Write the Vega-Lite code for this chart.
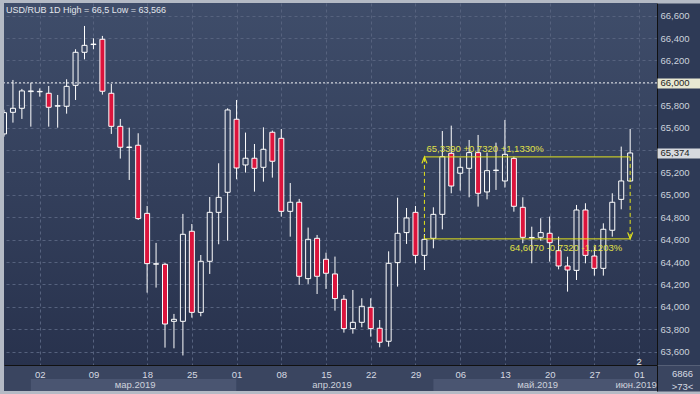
{
  "$schema": "https://vega.github.io/schema/vega-lite/v6.json",
  "background": "#b4bac5",
  "padding": {"left": 3, "top": 3, "right": 0, "bottom": 3},
  "bounds": "flush",
  "spacing": 0,
  "config": {
    "view": {"stroke": null},
    "font": "Liberation Sans",
    "axis": {"labelFont": "Liberation Sans", "labelOverlap": false},
    "text": {"font": "Liberation Sans"}
  },
  "datasets": {
    "candles": [
      {"date": "2019-02-26", "open": 65.544, "high": 65.76, "low": 65.52, "close": 65.734},
      {"date": "2019-02-27", "open": 65.737, "high": 66.026, "low": 65.645, "close": 65.773},
      {"date": "2019-02-28", "open": 65.773, "high": 65.946, "low": 65.678, "close": 65.928},
      {"date": "2019-03-01", "open": 65.922, "high": 66.002, "low": 65.609, "close": 65.928},
      {"date": "2019-03-02", "open": 65.92, "high": 65.951, "low": 65.877, "close": 65.924},
      {"date": "2019-03-04", "open": 65.907, "high": 65.972, "low": 65.609, "close": 65.782},
      {"date": "2019-03-05", "open": 65.792, "high": 65.892, "low": 65.6, "close": 65.796},
      {"date": "2019-03-06", "open": 65.791, "high": 66.032, "low": 65.725, "close": 65.969},
      {"date": "2019-03-07", "open": 65.978, "high": 66.3, "low": 65.847, "close": 66.273},
      {"date": "2019-03-08", "open": 66.273, "high": 66.508, "low": 66.21, "close": 66.335},
      {"date": "2019-03-09", "open": 66.342, "high": 66.398, "low": 66.3, "close": 66.346},
      {"date": "2019-03-11", "open": 66.389, "high": 66.419, "low": 65.895, "close": 65.925},
      {"date": "2019-03-12", "open": 65.907, "high": 65.99, "low": 65.544, "close": 65.612},
      {"date": "2019-03-13", "open": 65.612, "high": 65.678, "low": 65.324, "close": 65.425},
      {"date": "2019-03-14", "open": 65.423, "high": 65.6, "low": 65.133, "close": 65.427},
      {"date": "2019-03-15", "open": 65.443, "high": 65.55, "low": 64.776, "close": 64.788},
      {"date": "2019-03-18", "open": 64.835, "high": 64.901, "low": 64.127, "close": 64.386},
      {"date": "2019-03-19", "open": 64.381, "high": 64.571, "low": 64.172, "close": 64.385},
      {"date": "2019-03-20", "open": 64.38, "high": 64.392, "low": 63.636, "close": 63.847},
      {"date": "2019-03-21", "open": 63.871, "high": 63.937, "low": 63.63, "close": 63.889},
      {"date": "2019-03-22", "open": 63.871, "high": 64.83, "low": 63.566, "close": 64.648},
      {"date": "2019-03-25", "open": 64.675, "high": 64.74, "low": 63.904, "close": 63.951},
      {"date": "2019-03-26", "open": 63.951, "high": 64.463, "low": 63.916, "close": 64.407},
      {"date": "2019-03-27", "open": 64.407, "high": 64.981, "low": 64.294, "close": 64.844},
      {"date": "2019-03-28", "open": 64.844, "high": 65.282, "low": 64.559, "close": 64.978},
      {"date": "2019-03-29", "open": 65.023, "high": 65.773, "low": 64.591, "close": 65.758},
      {"date": "2019-04-01", "open": 65.675, "high": 65.847, "low": 65.139, "close": 65.24},
      {"date": "2019-04-02", "open": 65.267, "high": 65.556, "low": 65.199, "close": 65.327},
      {"date": "2019-04-03", "open": 65.327, "high": 65.454, "low": 65.029, "close": 65.237},
      {"date": "2019-04-04", "open": 65.246, "high": 65.603, "low": 65.118, "close": 65.407},
      {"date": "2019-04-05", "open": 65.559, "high": 65.574, "low": 65.154, "close": 65.3},
      {"date": "2019-04-08", "open": 65.505, "high": 65.588, "low": 64.806, "close": 64.853},
      {"date": "2019-04-09", "open": 64.853, "high": 65.106, "low": 64.627, "close": 64.934},
      {"date": "2019-04-10", "open": 64.934, "high": 64.964, "low": 64.196, "close": 64.273},
      {"date": "2019-04-11", "open": 64.252, "high": 64.708, "low": 64.205, "close": 64.603},
      {"date": "2019-04-12", "open": 64.612, "high": 64.642, "low": 64.115, "close": 64.273},
      {"date": "2019-04-15", "open": 64.425, "high": 64.484, "low": 64.16, "close": 64.3},
      {"date": "2019-04-16", "open": 64.294, "high": 64.449, "low": 63.966, "close": 64.074},
      {"date": "2019-04-17", "open": 64.068, "high": 64.106, "low": 63.77, "close": 63.806},
      {"date": "2019-04-18", "open": 63.806, "high": 64.151, "low": 63.761, "close": 63.862},
      {"date": "2019-04-19", "open": 63.862, "high": 64.077, "low": 63.818, "close": 64.005},
      {"date": "2019-04-22", "open": 63.996, "high": 64.077, "low": 63.734, "close": 63.806},
      {"date": "2019-04-23", "open": 63.809, "high": 63.883, "low": 63.639, "close": 63.684},
      {"date": "2019-04-24", "open": 63.693, "high": 64.496, "low": 63.645, "close": 64.389},
      {"date": "2019-04-25", "open": 64.395, "high": 64.975, "low": 64.181, "close": 64.657},
      {"date": "2019-04-26", "open": 64.663, "high": 64.883, "low": 64.562, "close": 64.794},
      {"date": "2019-04-29", "open": 64.844, "high": 64.901, "low": 64.389, "close": 64.46},
      {"date": "2019-04-30", "open": 64.46, "high": 64.65, "low": 64.329, "close": 64.603},
      {"date": "2019-05-01", "open": 64.612, "high": 64.889, "low": 64.523, "close": 64.826},
      {"date": "2019-05-02", "open": 64.826, "high": 65.57, "low": 64.692, "close": 65.341},
      {"date": "2019-05-03", "open": 65.371, "high": 65.618, "low": 65.014, "close": 65.079},
      {"date": "2019-05-06", "open": 65.193, "high": 65.332, "low": 65.038, "close": 65.246},
      {"date": "2019-05-07", "open": 65.237, "high": 65.49, "low": 64.978, "close": 65.377},
      {"date": "2019-05-08", "open": 65.377, "high": 65.535, "low": 64.895, "close": 65.014},
      {"date": "2019-05-09", "open": 65.026, "high": 65.377, "low": 64.96, "close": 65.216},
      {"date": "2019-05-10", "open": 65.217, "high": 65.466, "low": 65.044, "close": 65.221},
      {"date": "2019-05-13", "open": 65.124, "high": 65.669, "low": 65.065, "close": 65.362},
      {"date": "2019-05-14", "open": 65.326, "high": 65.341, "low": 64.85, "close": 64.898},
      {"date": "2019-05-15", "open": 64.889, "high": 64.978, "low": 64.568, "close": 64.621},
      {"date": "2019-05-16", "open": 64.616, "high": 64.716, "low": 64.389, "close": 64.62},
      {"date": "2019-05-17", "open": 64.621, "high": 64.791, "low": 64.591, "close": 64.663},
      {"date": "2019-05-20", "open": 64.657, "high": 64.806, "low": 64.404, "close": 64.573},
      {"date": "2019-05-21", "open": 64.502, "high": 64.627, "low": 64.335, "close": 64.365},
      {"date": "2019-05-22", "open": 64.365, "high": 64.448, "low": 64.136, "close": 64.329},
      {"date": "2019-05-23", "open": 64.326, "high": 64.91, "low": 64.24, "close": 64.865},
      {"date": "2019-05-24", "open": 64.865, "high": 64.925, "low": 64.389, "close": 64.46},
      {"date": "2019-05-27", "open": 64.454, "high": 64.538, "low": 64.279, "close": 64.344},
      {"date": "2019-05-28", "open": 64.344, "high": 64.746, "low": 64.279, "close": 64.693},
      {"date": "2019-05-29", "open": 64.684, "high": 65.014, "low": 64.627, "close": 64.934},
      {"date": "2019-05-30", "open": 64.96, "high": 65.431, "low": 64.871, "close": 65.124},
      {"date": "2019-05-31", "open": 65.124, "high": 65.588, "low": 65.12, "close": 65.374}
    ],
    "levels": [
      {"v": 66.0, "kind": "level"}
    ],
    "ann": [
      {"from": "2019-04-30", "to": "2019-05-31", "top": 65.339, "bottom": 64.607, "top_text": "65,3390 +0,7320 +1,1330%", "bottom_text": "64,6070 -0,7320 -1,1203%"}
    ],
    "misc": [
      {"date": "2019-06-01", "v": 63.51, "t": "2"}
    ],
    "head": [
      {"date": "2019-02-26", "v": 66.65, "t": "USD/RUB 1D High = 66,5 Low = 63,566"}
    ],
    "months": [
      {"m": "мар.2019", "start": "2019-03-01", "end": "2019-04-01", "at": "2019-03-15", "tone": "light"},
      {"m": "апр.2019", "start": "2019-04-01", "end": "2019-05-01", "at": "2019-04-16", "tone": "none"},
      {"m": "май.2019", "start": "2019-05-01", "end": "2019-06-01", "at": "2019-05-17", "tone": "light"},
      {"m": "июн.2019", "start": "2019-06-01", "end": "2019-06-01", "at": "2019-06-01", "tone": "none"}
    ]
  },
  "resolve": {"scale": {"x": "shared", "y": "independent", "fill": "independent"}},
  "vconcat": [
    {
      "width": 653,
      "height": 362,
      "view": {"fill": {"gradient": "linear", "x1": 0, "y1": 0, "x2": 0, "y2": 1, "stops": [{"offset": 0, "color": "#3f4d6a"}, {"offset": 1, "color": "#28324d"}]}, "stroke": null},
      "resolve": {"axis": {"y": "independent"}},
      "layer": [
        {
          "data": {"name": "levels"},
          "mark": {"type": "rule", "color": "#ffffff", "strokeWidth": 1, "strokeDash": [2, 2], "opacity": 0.9},
          "encoding": {
            "y": {"field": "v", "type": "quantitative", "scale": {"domain": [63.481, 66.713], "nice": false, "zero": false},
              "axis": {
                "orient": "right",
                "zindex": 0,
                "tickCount": 60,
                "values": [63.6, 63.8, 64, 64.2, 64.4, 64.6, 64.8, 65, 65.097, 65.2, 65.4, 65.6, 65.8, 66, 66.2, 66.4, 66.6],
                "grid": true,
                "gridDash": [3, 3],
                "gridWidth": 1,
                "gridColor": {"condition": {"test": "datum.value == 65.097", "value": "transparent"}, "value": "#56627e"},
                "ticks": true,
                "tickSize": 44,
                "tickWidth": {"condition": {"test": "datum.value == 65.097", "value": 362}, "value": 1},
                "tickColor": "#2e3a56",
                "tickOpacity": {"condition": {"test": "datum.value == 65.097", "value": 1}, "value": 0},
                "domain": true,
                "domainColor": "#111111",
                "domainWidth": 1,
                "labels": false,
                "title": null
              }}
          }
        },
        {
          "data": {"name": "candles"},
          "transform": [
            {"fold": ["open", "close"], "as": ["side", "price"]},
            {"aggregate": [
              {"op": "max", "field": "price", "as": "top"},
              {"op": "min", "field": "price", "as": "bot"},
              {"op": "max", "field": "high", "as": "hi"},
              {"op": "min", "field": "low", "as": "lo"}
            ], "groupby": ["date"]}
          ],
          "layer": [
            {
              "mark": {"type": "rule", "color": "#ffffff", "strokeWidth": 1, "clip": true},
              "encoding": {
                "x": {"field": "date", "type": "ordinal", "scale": {"type": "point", "padding": 1, "align": 0, "round": false},
                  "axis": {"values": ["2019-03-02","2019-03-09","2019-03-18","2019-03-25","2019-04-01","2019-04-08","2019-04-15","2019-04-22","2019-04-29","2019-05-06","2019-05-13","2019-05-20","2019-05-27","2019-06-01"], "grid": true, "gridColor": "#56627e", "gridDash": [3, 3], "gridWidth": 1, "labels": false, "ticks": false, "domain": false, "title": null}},
                "y": {"field": "hi", "type": "quantitative", "scale": {"domain": [63.481, 66.713], "nice": false, "zero": false},
                  "axis": {
                    "orient": "right",
                    "zindex": 1,
                    "tickCount": 60,
                    "values": [63.6, 63.8, 64, 64.2, 64.4, 64.6, 64.8, 65, 65.2, 65.374, 65.6, 65.8, 66, 66.2, 66.4, 66.6],
                    "grid": false,
                    "ticks": true,
                    "tickSize": 44,
                    "tickWidth": 10,
                    "tickColor": {"condition": {"test": "datum.value == 66", "value": "#e8e8d2"}, "value": "#d6d9de"},
                    "tickOpacity": {"condition": {"test": "datum.value == 66 || datum.value == 65.374", "value": 1}, "value": 0},
                    "domain": false,
                    "labels": true,
                    "labelExpr": "replace(format(datum.value, '.3f'), '.', ',')",
                    "labelAlign": "left",
                    "labelBaseline": "middle",
                    "labelPadding": -41,
                    "labelColor": {"condition": {"test": "datum.value == 66 || datum.value == 65.374", "value": "#1e1e1e"}, "value": "#ccd2dc"},
                    "labelFontSize": 9.5,
                    "labelOverlap": false,
                    "labelFlush": false,
                    "labelBound": false,
                    "title": null
                  }},
                "y2": {"field": "top"}
              }
            },
            {
              "mark": {"type": "rule", "color": "#ffffff", "strokeWidth": 1, "clip": true},
              "encoding": {
                "x": {"field": "date", "type": "ordinal", "scale": {"type": "point", "padding": 1, "align": 0, "round": false}},
                "y": {"field": "bot", "type": "quantitative", "scale": {"domain": [63.481, 66.713], "nice": false, "zero": false}},
                "y2": {"field": "lo"}
              }
            }
          ]
        },
        {
          "data": {"name": "candles"},
          "mark": {"type": "bar", "size": 5, "stroke": "#ffffff", "strokeWidth": 1, "clip": true},
          "encoding": {
            "x": {"field": "date", "type": "ordinal", "scale": {"type": "point", "padding": 1, "align": 0, "round": false}},
            "y": {"field": "open", "type": "quantitative", "scale": {"domain": [63.481, 66.713], "nice": false, "zero": false}, "axis": null},
            "y2": {"field": "close"},
            "fill": {"condition": {"test": "datum.close < datum.open", "value": "#dc143c"}, "value": "transparent"}
          }
        },
        {
          "data": {"name": "ann"},
          "layer": [
            {
              "mark": {"type": "rule", "color": "#e4e41c", "strokeWidth": 1},
              "encoding": {
                "x": {"field": "from", "type": "ordinal", "scale": {"type": "point", "padding": 1, "align": 0, "round": false}},
                "x2": {"field": "to"},
                "y": {"field": "top", "type": "quantitative", "scale": {"domain": [63.481, 66.713], "nice": false, "zero": false}, "axis": null}
              }
            },
            {
              "mark": {"type": "rule", "color": "#e4e41c", "strokeWidth": 1},
              "encoding": {
                "x": {"field": "from", "type": "ordinal", "scale": {"type": "point", "padding": 1, "align": 0, "round": false}},
                "x2": {"field": "to"},
                "y": {"field": "bottom", "type": "quantitative", "scale": {"domain": [63.481, 66.713], "nice": false, "zero": false}, "axis": null}
              }
            },
            {
              "mark": {"type": "rule", "color": "#e4e41c", "strokeWidth": 1, "strokeDash": [4, 3]},
              "encoding": {
                "x": {"field": "from", "type": "ordinal", "scale": {"type": "point", "padding": 1, "align": 0, "round": false}},
                "y": {"field": "bottom", "type": "quantitative", "scale": {"domain": [63.481, 66.713], "nice": false, "zero": false}, "axis": null},
                "y2": {"field": "top"}
              }
            },
            {
              "mark": {"type": "rule", "color": "#e4e41c", "strokeWidth": 1, "strokeDash": [4, 3]},
              "encoding": {
                "x": {"field": "to", "type": "ordinal", "scale": {"type": "point", "padding": 1, "align": 0, "round": false}},
                "y": {"field": "top", "type": "quantitative", "scale": {"domain": [63.481, 66.713], "nice": false, "zero": false}, "axis": null},
                "y2": {"field": "bottom"}
              }
            },
            {
              "mark": {"type": "point", "shape": "M-1,2.6L0,0L1,2.6", "size": 25, "filled": false, "stroke": "#e4e41c", "strokeWidth": 1.2, "opacity": 1},
              "encoding": {
                "x": {"field": "from", "type": "ordinal", "scale": {"type": "point", "padding": 1, "align": 0, "round": false}},
                "y": {"field": "top", "type": "quantitative", "scale": {"domain": [63.481, 66.713], "nice": false, "zero": false}, "axis": null}
              }
            },
            {
              "mark": {"type": "point", "shape": "M-1,-2.6L0,0L1,-2.6", "size": 25, "filled": false, "stroke": "#e4e41c", "strokeWidth": 1.2, "opacity": 1},
              "encoding": {
                "x": {"field": "to", "type": "ordinal", "scale": {"type": "point", "padding": 1, "align": 0, "round": false}},
                "y": {"field": "bottom", "type": "quantitative", "scale": {"domain": [63.481, 66.713], "nice": false, "zero": false}, "axis": null}
              }
            },
            {
              "mark": {"type": "text", "align": "left", "baseline": "middle", "dx": 2, "dy": -8, "color": "#e0e048", "fontSize": 9.5},
              "encoding": {
                "x": {"field": "from", "type": "ordinal", "scale": {"type": "point", "padding": 1, "align": 0, "round": false}},
                "y": {"field": "top", "type": "quantitative", "scale": {"domain": [63.481, 66.713], "nice": false, "zero": false}, "axis": null},
                "text": {"field": "top_text"}
              }
            },
            {
              "mark": {"type": "text", "align": "right", "baseline": "middle", "dx": -8, "dy": 9, "color": "#e0e048", "fontSize": 9.5},
              "encoding": {
                "x": {"field": "to", "type": "ordinal", "scale": {"type": "point", "padding": 1, "align": 0, "round": false}},
                "y": {"field": "bottom", "type": "quantitative", "scale": {"domain": [63.481, 66.713], "nice": false, "zero": false}, "axis": null},
                "text": {"field": "bottom_text"}
              }
            }
          ]
        },
        {
          "data": {"name": "misc"},
          "mark": {"type": "text", "color": "#e8e8e8", "fontSize": 9.5, "baseline": "middle"},
          "encoding": {
            "x": {"field": "date", "type": "ordinal", "scale": {"type": "point", "padding": 1, "align": 0, "round": false}},
            "y": {"field": "v", "type": "quantitative", "scale": {"domain": [63.481, 66.713], "nice": false, "zero": false}, "axis": null},
            "text": {"field": "t"}
          }
        },
        {
          "data": {"name": "head"},
          "mark": {"type": "text", "color": "#e2e6ec", "fontSize": 9, "align": "left", "baseline": "middle", "dx": 2},
          "encoding": {
            "x": {"field": "date", "type": "ordinal", "scale": {"type": "point", "padding": 1, "align": 0, "round": false}},
            "y": {"field": "v", "type": "quantitative", "scale": {"domain": [63.481, 66.713], "nice": false, "zero": false}, "axis": null},
            "text": {"field": "t"}
          }
        }
      ]
    },
    {
      "width": 653,
      "height": 26,
      "view": {"fill": "#3a4560", "stroke": null},
      "data": {"name": "months"},
      "layer": [
        {
          "mark": {"type": "rect"},
          "encoding": {
            "x": {"field": "start", "type": "ordinal", "scale": {"type": "point", "padding": 1, "align": 0, "round": false},
              "axis": {"orient": "top", "values": ["2019-03-02","2019-03-09","2019-03-18","2019-03-25","2019-04-01","2019-04-08","2019-04-15","2019-04-22","2019-04-29","2019-05-06","2019-05-13","2019-05-20","2019-05-27","2019-06-01"], "labelExpr": "substring(datum.value, 8, 10)", "labelPadding": -9, "labelBaseline": "middle", "labelAngle": 0, "ticks": false, "grid": false, "domain": true, "domainColor": "#111111", "title": null, "labelColor": "#d6dae2", "labelFontSize": 9.5, "labelOverlap": false, "labelFlush": false, "labelBound": false}},
            "x2": {"field": "end"},
            "y": {"datum": 0, "type": "quantitative", "scale": {"domain": [0, 2], "nice": false, "zero": false},
              "axis": {
                "orient": "right",
                "tickCount": 60,
                "values": [1, 1.38, 0.31],
                "ticks": true,
                "tickSize": 44,
                "tickWidth": {"condition": {"test": "datum.value == 1", "value": 26}, "value": 1},
                "tickColor": "#3a4560",
                "tickOpacity": {"condition": {"test": "datum.value == 1", "value": 1}, "value": 0},
                "domain": true,
                "domainColor": "#111111",
                "grid": false,
                "labelExpr": "datum.value > 1.2 ? '6866' : (datum.value < 0.5 ? '>73<' : ' ')",
                "labelAlign": "center",
                "labelBaseline": "middle",
                "labelPadding": -19,
                "labelColor": "#d6dae2",
                "labelFontSize": 9.5,
                "labelOverlap": false,
                "labelFlush": false,
                "labelBound": false,
                "title": null
              }},
            "y2": {"datum": 0.92},
            "fill": {"field": "tone", "type": "nominal", "scale": {"domain": ["light", "none"], "range": ["#4a5571", "#3a4560"]}, "legend": null}
          }
        },
        {
          "mark": {"type": "text", "color": "#cdd2dc", "fontSize": 9.5, "dx": -3, "baseline": "middle"},
          "encoding": {
            "x": {"field": "at", "type": "ordinal", "scale": {"type": "point", "padding": 1, "align": 0, "round": false}},
            "y": {"datum": 0.46, "type": "quantitative"},
            "text": {"field": "m"}
          }
        }
      ]
    }
  ]
}
